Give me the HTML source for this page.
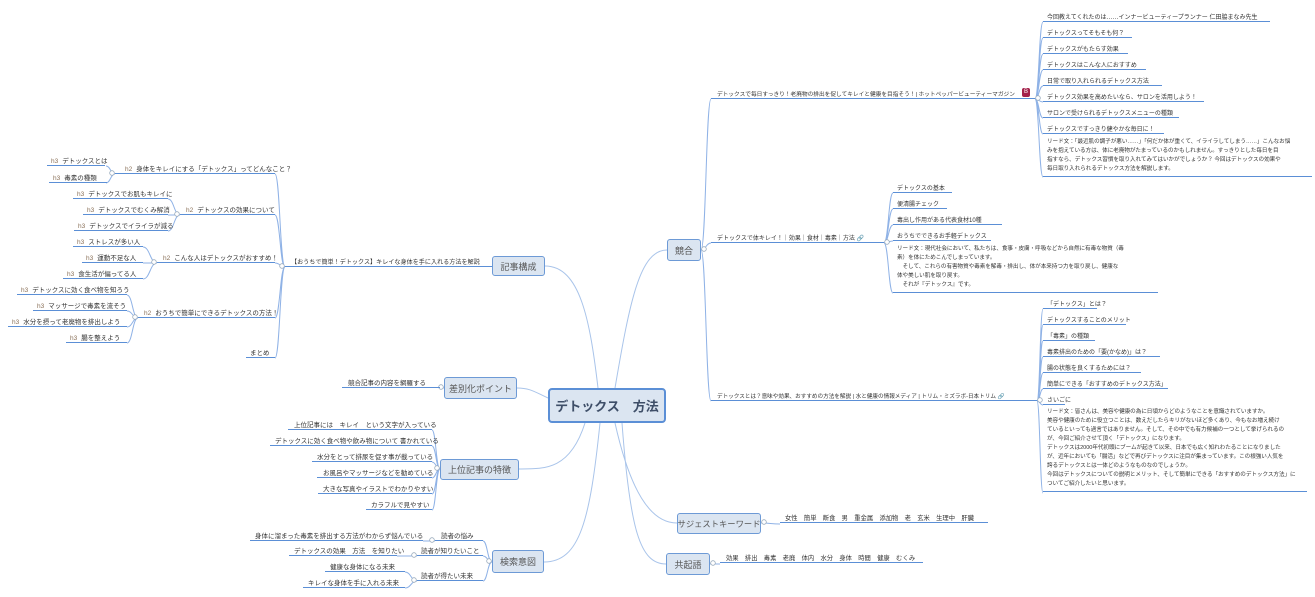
<!DOCTYPE html>
<html><head><meta charset="utf-8">
<style>
html,body{margin:0;padding:0;background:#fff;}
#c{position:relative;width:1315px;height:597px;overflow:hidden;font-family:"Liberation Sans","Noto Sans CJK JP",sans-serif;color:#333;}
.t{position:absolute;border-bottom:1.5px solid #5b8fd6;font-size:6.5px;line-height:8px;height:8px;padding-left:4px;white-space:nowrap;box-sizing:border-box;overflow:visible;}
.m{position:absolute;border-bottom:1.5px solid #5b8fd6;font-size:5.6px;line-height:9px;padding-left:4px;white-space:nowrap;box-sizing:border-box;letter-spacing:-0.05px;}
.h{color:#8a7058;margin-right:4px;}
.b{position:absolute;background:#dbe5f1;border:1.5px solid #6d9ad6;border-radius:3px;font-size:9px;color:#555;display:flex;align-items:center;justify-content:center;box-sizing:border-box;white-space:nowrap;}
.ctr{position:absolute;left:548px;top:388px;width:118px;height:35px;background:#dbe5f1;border:2.5px solid #5b8fd6;border-radius:4px;box-sizing:border-box;font-size:13px;font-weight:bold;color:#3e4e68;display:flex;align-items:center;justify-content:center;}
svg{position:absolute;left:0;top:0;}
</style></head><body><div id="c">
<svg id="s" width="1315" height="597"></svg>

<div class="ctr">デトックス　方法</div>
<div class="b" style="left:492px;top:256px;width:53px;height:20px;">記事構成</div>
<div class="b" style="left:444px;top:377px;width:73px;height:22px;">差別化ポイント</div>
<div class="b" style="left:440px;top:459px;width:79px;height:21px;">上位記事の特徴</div>
<div class="b" style="left:492px;top:550px;width:52px;height:23px;">検索意図</div>
<div class="b" style="left:667px;top:239px;width:34px;height:22px;">競合</div>
<div class="b" style="left:677px;top:513px;width:84px;height:21px;font-size:8.3px;">サジェストキーワード</div>
<div class="b" style="left:666px;top:553px;width:44px;height:22px;">共起語</div>

<!-- left subtree -->
<div class="t" style="left:115px;top:166px;width:160px;padding-left:10px"><span class="h">h2</span>身体をキレイにする「デトックス」ってどんなこと？</div>
<div class="t" style="left:47px;top:158px;width:58px"><span class="h">h3</span>デトックスとは</div>
<div class="t" style="left:49px;top:175px;width:58px"><span class="h">h3</span>毒素の種類</div>
<div class="t" style="left:180px;top:207px;width:95px;padding-left:6px"><span class="h">h2</span>デトックスの効果について</div>
<div class="t" style="left:73px;top:191px;width:95px"><span class="h">h3</span>デトックスでお肌もキレイに</div>
<div class="t" style="left:83px;top:207px;width:85px"><span class="h">h3</span>デトックスでむくみ解消</div>
<div class="t" style="left:74px;top:223px;width:94px"><span class="h">h3</span>デトックスでイライラが減る</div>
<div class="t" style="left:157px;top:255px;width:118px;padding-left:6px"><span class="h">h2</span>こんな人はデトックスがおすすめ！</div>
<div class="t" style="left:73px;top:239px;width:70px"><span class="h">h3</span>ストレスが多い人</div>
<div class="t" style="left:82px;top:255px;width:61px"><span class="h">h3</span>運動不足な人</div>
<div class="t" style="left:63px;top:271px;width:80px"><span class="h">h3</span>食生活が偏ってる人</div>
<div class="t" style="left:285px;top:259px;width:207px;padding-left:6px;font-size:6.1px">【おうちで簡単！デトックス】キレイな身体を手に入れる方法を解説</div>
<div class="t" style="left:138px;top:310px;width:137px;padding-left:6px"><span class="h">h2</span>おうちで簡単にできるデトックスの方法！</div>
<div class="t" style="left:17px;top:287px;width:110px"><span class="h">h3</span>デトックスに効く食べ物を知ろう</div>
<div class="t" style="left:33px;top:303px;width:94px"><span class="h">h3</span>マッサージで毒素を流そう</div>
<div class="t" style="left:8px;top:319px;width:119px"><span class="h">h3</span>水分を摂って老廃物を排出しよう</div>
<div class="t" style="left:66px;top:335px;width:61px"><span class="h">h3</span>腸を整えよう</div>
<div class="t" style="left:246px;top:350px;width:29px">まとめ</div>

<div class="t" style="left:342px;top:380px;width:98px;padding-left:6px">競合記事の内容を網羅する</div>
<div class="t" style="left:288px;top:422px;width:144px;padding-left:6px">上位記事には　キレイ　という文字が入っている</div>
<div class="t" style="left:270px;top:438px;width:162px;padding-left:5px">デトックスに効く食べ物や飲み物について 書かれている</div>
<div class="t" style="left:312px;top:454px;width:120px;padding-left:5px">水分をとって排尿を促す事が載っている</div>
<div class="t" style="left:317px;top:470px;width:115px;padding-left:6px">お風呂やマッサージなどを勧めている</div>
<div class="t" style="left:318px;top:486px;width:114px;padding-left:5px">大きな写真やイラストでわかりやすい</div>
<div class="t" style="left:366px;top:502px;width:66px;padding-left:5px">カラフルで見やすい</div>

<div class="t" style="left:435px;top:533px;width:48px;padding-left:6px">読者の悩み</div>
<div class="t" style="left:250px;top:533px;width:173px;padding-left:5px">身体に溜まった毒素を排出する方法がわからず悩んでいる</div>
<div class="t" style="left:417px;top:548px;width:66px;padding-left:4px">読者が知りたいこと</div>
<div class="t" style="left:289px;top:548px;width:108px;padding-left:5px">デトックスの効果　方法　を知りたい</div>
<div class="t" style="left:417px;top:573px;width:66px;padding-left:4px">読者が得たい未来</div>
<div class="t" style="left:325px;top:564px;width:80px;padding-left:5px">健康な身体になる未来</div>
<div class="t" style="left:303px;top:580px;width:102px;padding-left:5px">キレイな身体を手に入れる未来</div>

<!-- right -->
<div class="t" style="left:711px;top:91px;width:324px;padding-left:6px;font-size:5.7px">デトックスで毎日すっきり！老廃物の排出を促してキレイと健康を目指そう！| ホットペッパービューティーマガジン</div>
<div style="position:absolute;left:1022px;top:88px;width:8px;height:9px;background:#a3204a;border-radius:2px;color:#fff;font-size:6px;line-height:9px;text-align:center;font-family:'Liberation Sans',sans-serif">B</div>
<div class="t" style="left:1043px;top:14px;width:227px;font-size:6px">今回教えてくれたのは……インナービューティープランナー 仁田脇まなみ先生</div>
<div class="t" style="left:1043px;top:30px;width:89px;font-size:6px">デトックスってそもそも何？</div>
<div class="t" style="left:1043px;top:46px;width:85px;font-size:6px">デトックスがもたらす効果</div>
<div class="t" style="left:1043px;top:62px;width:103px;font-size:6px">デトックスはこんな人におすすめ</div>
<div class="t" style="left:1043px;top:78px;width:119px;font-size:6px">日常で取り入れられるデトックス方法</div>
<div class="t" style="left:1043px;top:94px;width:161px;font-size:6px">デトックス効果を高めたいなら、サロンを活用しよう！</div>
<div class="t" style="left:1043px;top:110px;width:136px;font-size:6px">サロンで受けられるデトックスメニューの種類</div>
<div class="t" style="left:1043px;top:126px;width:121px;font-size:6px">デトックスですっきり健やかな毎日に！</div>
<div class="m" style="left:1043px;top:138px;width:269px;padding-bottom:2px">リード文：「最近肌の調子が悪い……」「何だか体が重くて、イライラしてしまう……」こんなお悩<br>みを抱えている方は、体に老廃物がたまっているのかもしれません。すっきりとした毎日を目<br>指すなら、デトックス習慣を取り入れてみてはいかがでしょうか？ 今回はデトックスの効果や<br>毎日取り入れられるデトックス方法を解説します。</div>

<div class="t" style="left:711px;top:235px;width:173px;padding-left:6px;font-size:6px">デトックスで体キレイ！｜効果｜食材｜毒素｜方法 <span style="color:#5b8fd6">🔗</span></div>
<div class="t" style="left:893px;top:185px;width:59px;font-size:6px">デトックスの基本</div>
<div class="t" style="left:893px;top:201px;width:54px;font-size:6px">便清腸チェック</div>
<div class="t" style="left:893px;top:217px;width:109px;font-size:6px">毒出し作用がある代表食材10種</div>
<div class="t" style="left:893px;top:233px;width:98px;font-size:6px">おうちでできるお手軽デトックス</div>
<div class="m" style="left:893px;top:245px;width:265px;padding-bottom:2px">リード文：現代社会において、私たちは、食事・皮膚・呼吸などから自然に有毒な物質（毒<br>素）を体にためこんでしまっています。<br>　そして、これらの有害物質や毒素を解毒・排出し、体が本来持つ力を取り戻し、健康な<br>体や美しい肌を取り戻す。<br>　それが『デトックス』です。</div>

<div class="t" style="left:711px;top:393px;width:326px;padding-left:6px;font-size:5.6px">デトックスとは？意味や効果、おすすめの方法を解説 | 水と健康の情報メディア | トリム・ミズラボ-日本トリム <span style="color:#5b8fd6">🔗</span></div>
<div class="t" style="left:1043px;top:301px;width:54px;font-size:6px">「デトックス」とは？</div>
<div class="t" style="left:1043px;top:317px;width:83px;font-size:6px">デトックスすることのメリット</div>
<div class="t" style="left:1043px;top:333px;width:52px;font-size:6px">「毒素」の種類</div>
<div class="t" style="left:1043px;top:349px;width:117px;font-size:6px">毒素排出のための「要(かなめ)」は？</div>
<div class="t" style="left:1043px;top:365px;width:98px;font-size:6px">腸の状態を良くするためには？</div>
<div class="t" style="left:1043px;top:381px;width:125px;font-size:6px">簡単にできる「おすすめのデトックス方法」</div>
<div class="t" style="left:1043px;top:397px;width:22px;font-size:6px">さいごに</div>
<div class="m" style="left:1043px;top:408px;width:264px;padding-bottom:2px">リード文：皆さんは、美容や健康の為に日頃からどのようなことを意識されていますか。<br>美容や健康のために役立つことは、数えだしたらキリがないほど多くあり、今もなお増え続け<br>ているといっても過言ではありません。そして、その中でも有力候補の一つとして挙げられるの<br>が、今回ご紹介させて頂く「デトックス」になります。<br>デトックスは2000年代初頭にブームが起きて以来、日本でも広く知れわたることになりました<br>が、近年においても「腸活」などで再びデトックスに注目が集まっています。この根強い人気を<br>誇るデトックスとは一体どのようなものなのでしょうか。<br>今回はデトックスについての説明とメリット、そして簡単にできる「おすすめのデトックス方法」に<br>ついてご紹介したいと思います。</div>

<div class="t" style="left:780px;top:515px;width:208px;padding-left:5px;font-size:6.3px">女性　簡単　断食　男　重金属　添加物　老　玄米　生理中　肝臓</div>
<div class="t" style="left:720px;top:555px;width:203px;padding-left:6px;font-size:6.3px">効果　排出　毒素　老廃　体内　水分　身体　時間　健康　むくみ</div>

<script>
var s=document.getElementById('s'),d='',c='';
function cv(px,py,cx,cy){var mx=(px+cx)/2;d+='M'+px+' '+py+' C'+mx+' '+py+' '+mx+' '+cy+' '+cx+' '+cy+' ';}
function fan(px,py,cx,ys){ys.forEach(function(y){cv(px,py,cx,y)});c+='<circle cx="'+(px+(cx>px?3:-3))+'" cy="'+(py-1)+'" r="2.3" fill="#fff" stroke="#9ab" stroke-width="0.8"/>';}
var D='';
function lc(a,b,cc,dd,e,f,g,h){D+='M'+a+' '+b+' C'+cc+' '+dd+' '+e+' '+f+' '+g+' '+h+' ';}
lc(598,388,590,320,580,266,545,266);
lc(548,398,535,392,530,388,517,388);
lc(585,423,570,470,545,469,519,469);
lc(600,423,590,520,580,562,544,562);
lc(615,388,630,300,640,250,667,250);
lc(615,423,630,490,650,523,677,523);
lc(622,423,630,530,640,564,666,564);
fan(285,267,275,[174,215,263,318,358]);
fan(115,174,106,[166,183]);
fan(180,215,168,[199,215,231]);
fan(157,263,143,[247,263,279]);
fan(138,318,127,[295,311,327,343]);
fan(444,388,440,[388]);
fan(440,469,432,[430,446,462,478,494,510]);
fan(492,562,483,[541,556,581]);
fan(435,541,423,[541]);
fan(417,556,397,[556]);
fan(417,581,405,[572,588]);
fan(701,250,711,[99,243,401]);
fan(1035,99,1043,[22,38,54,70,86,102,118,134,177]);
fan(884,243,893,[193,209,225,241,293]);
fan(1037,401,1043,[309,325,341,357,373,389,405,493]);
fan(761,523,780,[524]);
fan(710,564,720,[564]);
s.innerHTML='<path d="'+D+'" fill="none" stroke="#a9c4ea" stroke-width="1"/><path d="'+d+'" fill="none" stroke="#8fb2e6" stroke-width="1"/>'+c;
</script>
</div></body></html>
